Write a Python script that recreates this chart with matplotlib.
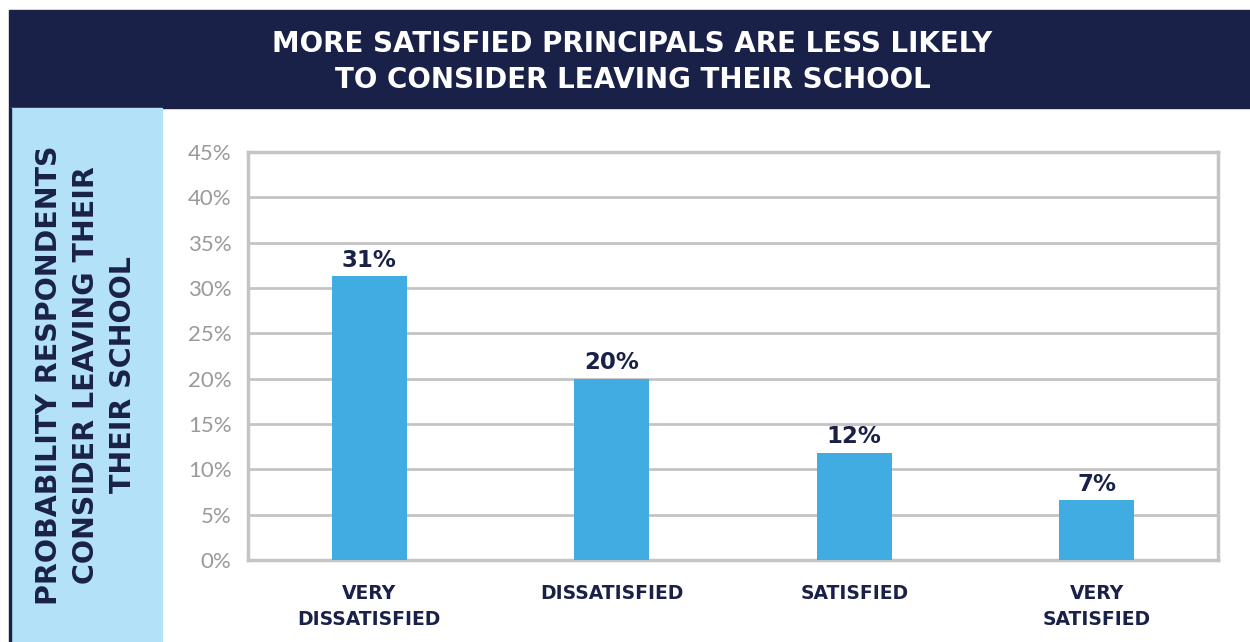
import matplotlib.pyplot as plt
from matplotlib.patches import Rectangle

# data
categories = ['VERY\nDISSATISFIED', 'DISSATISFIED', 'SATISFIED', 'VERY\nSATISFIED']
values = [31.3, 20.0, 11.8, 6.6]
bar_labels = ['31%', '20%', '12%', '7%']
yticks = [0, 5, 10, 15, 20, 25, 30, 35, 40, 45]

navy = '#1a2149'
light_blue = '#b3e2f8'
bar_blue = '#41ace1'
grid_gray = '#c4c4c8'

plt.rcParams['font.family'] = ['Lato', 'DejaVu Sans']
bold_font = ['DejaVu Sans']

fig = plt.figure(figsize=(12.5, 6.42), dpi=100)

# header band and side panel
fig.patches.append(Rectangle((9 / 1250, 534 / 642), 1, 98 / 642, transform=fig.transFigure,
                             color=navy, zorder=0))
fig.patches.append(Rectangle((10 / 1250, 0), 152 / 1250, 534 / 642, transform=fig.transFigure,
                             color=light_blue, zorder=0))
fig.patches.append(Rectangle((9 / 1250, 0), 2 / 1250, 534 / 642, transform=fig.transFigure,
                             color=navy, zorder=0))

fig.text(0.506, 1 - 62 / 642, 'MORE SATISFIED PRINCIPALS ARE LESS LIKELY\nTO CONSIDER LEAVING THEIR SCHOOL',
         ha='center', va='center', color='white', fontsize=20, fontweight='bold', linespacing=1.4,
         family=bold_font)

fig.text(86 / 1250, 1 - 375 / 642, 'PROBABILITY RESPONDENTS\nCONSIDER LEAVING THEIR\nTHEIR SCHOOL',
         ha='center', va='center', rotation=90, color=navy, fontsize=20.5, fontweight='bold',
         linespacing=1.4, family=bold_font)

ax = fig.add_axes([248 / 1250, 82 / 642, 970 / 1250, 408 / 642])
x = range(len(categories))
bars = ax.bar(x, values, width=0.31, color=bar_blue, zorder=3)

for xi, v, lab in zip(x, values, bar_labels):
    ax.text(xi, v + 0.5, lab, ha='center', va='bottom', color=navy, fontsize=16.5, fontweight='bold',
            family=bold_font)

ax.set_xlim(-0.5, len(categories) - 0.5)
ax.set_ylim(0, 45)
ax.set_yticks(yticks)
ax.set_yticklabels([f'{t}%' for t in yticks], color='#9a9a9a', fontsize=16, family=['Lato'])
ax.set_xticks(list(x))
ax.set_xticklabels(categories, color=navy, fontsize=13.5, fontweight='bold', linespacing=1.48,
                   family=bold_font)
ax.tick_params(length=0)
ax.tick_params(axis='x', pad=17)
ax.tick_params(axis='y', pad=12)
ax.yaxis.grid(True, color=grid_gray, linewidth=2, zorder=0)
ax.set_axisbelow(True)
for s in ax.spines.values():
    s.set_color(grid_gray)
    s.set_linewidth(2.5)

fig.savefig('out.png', dpi=100)
